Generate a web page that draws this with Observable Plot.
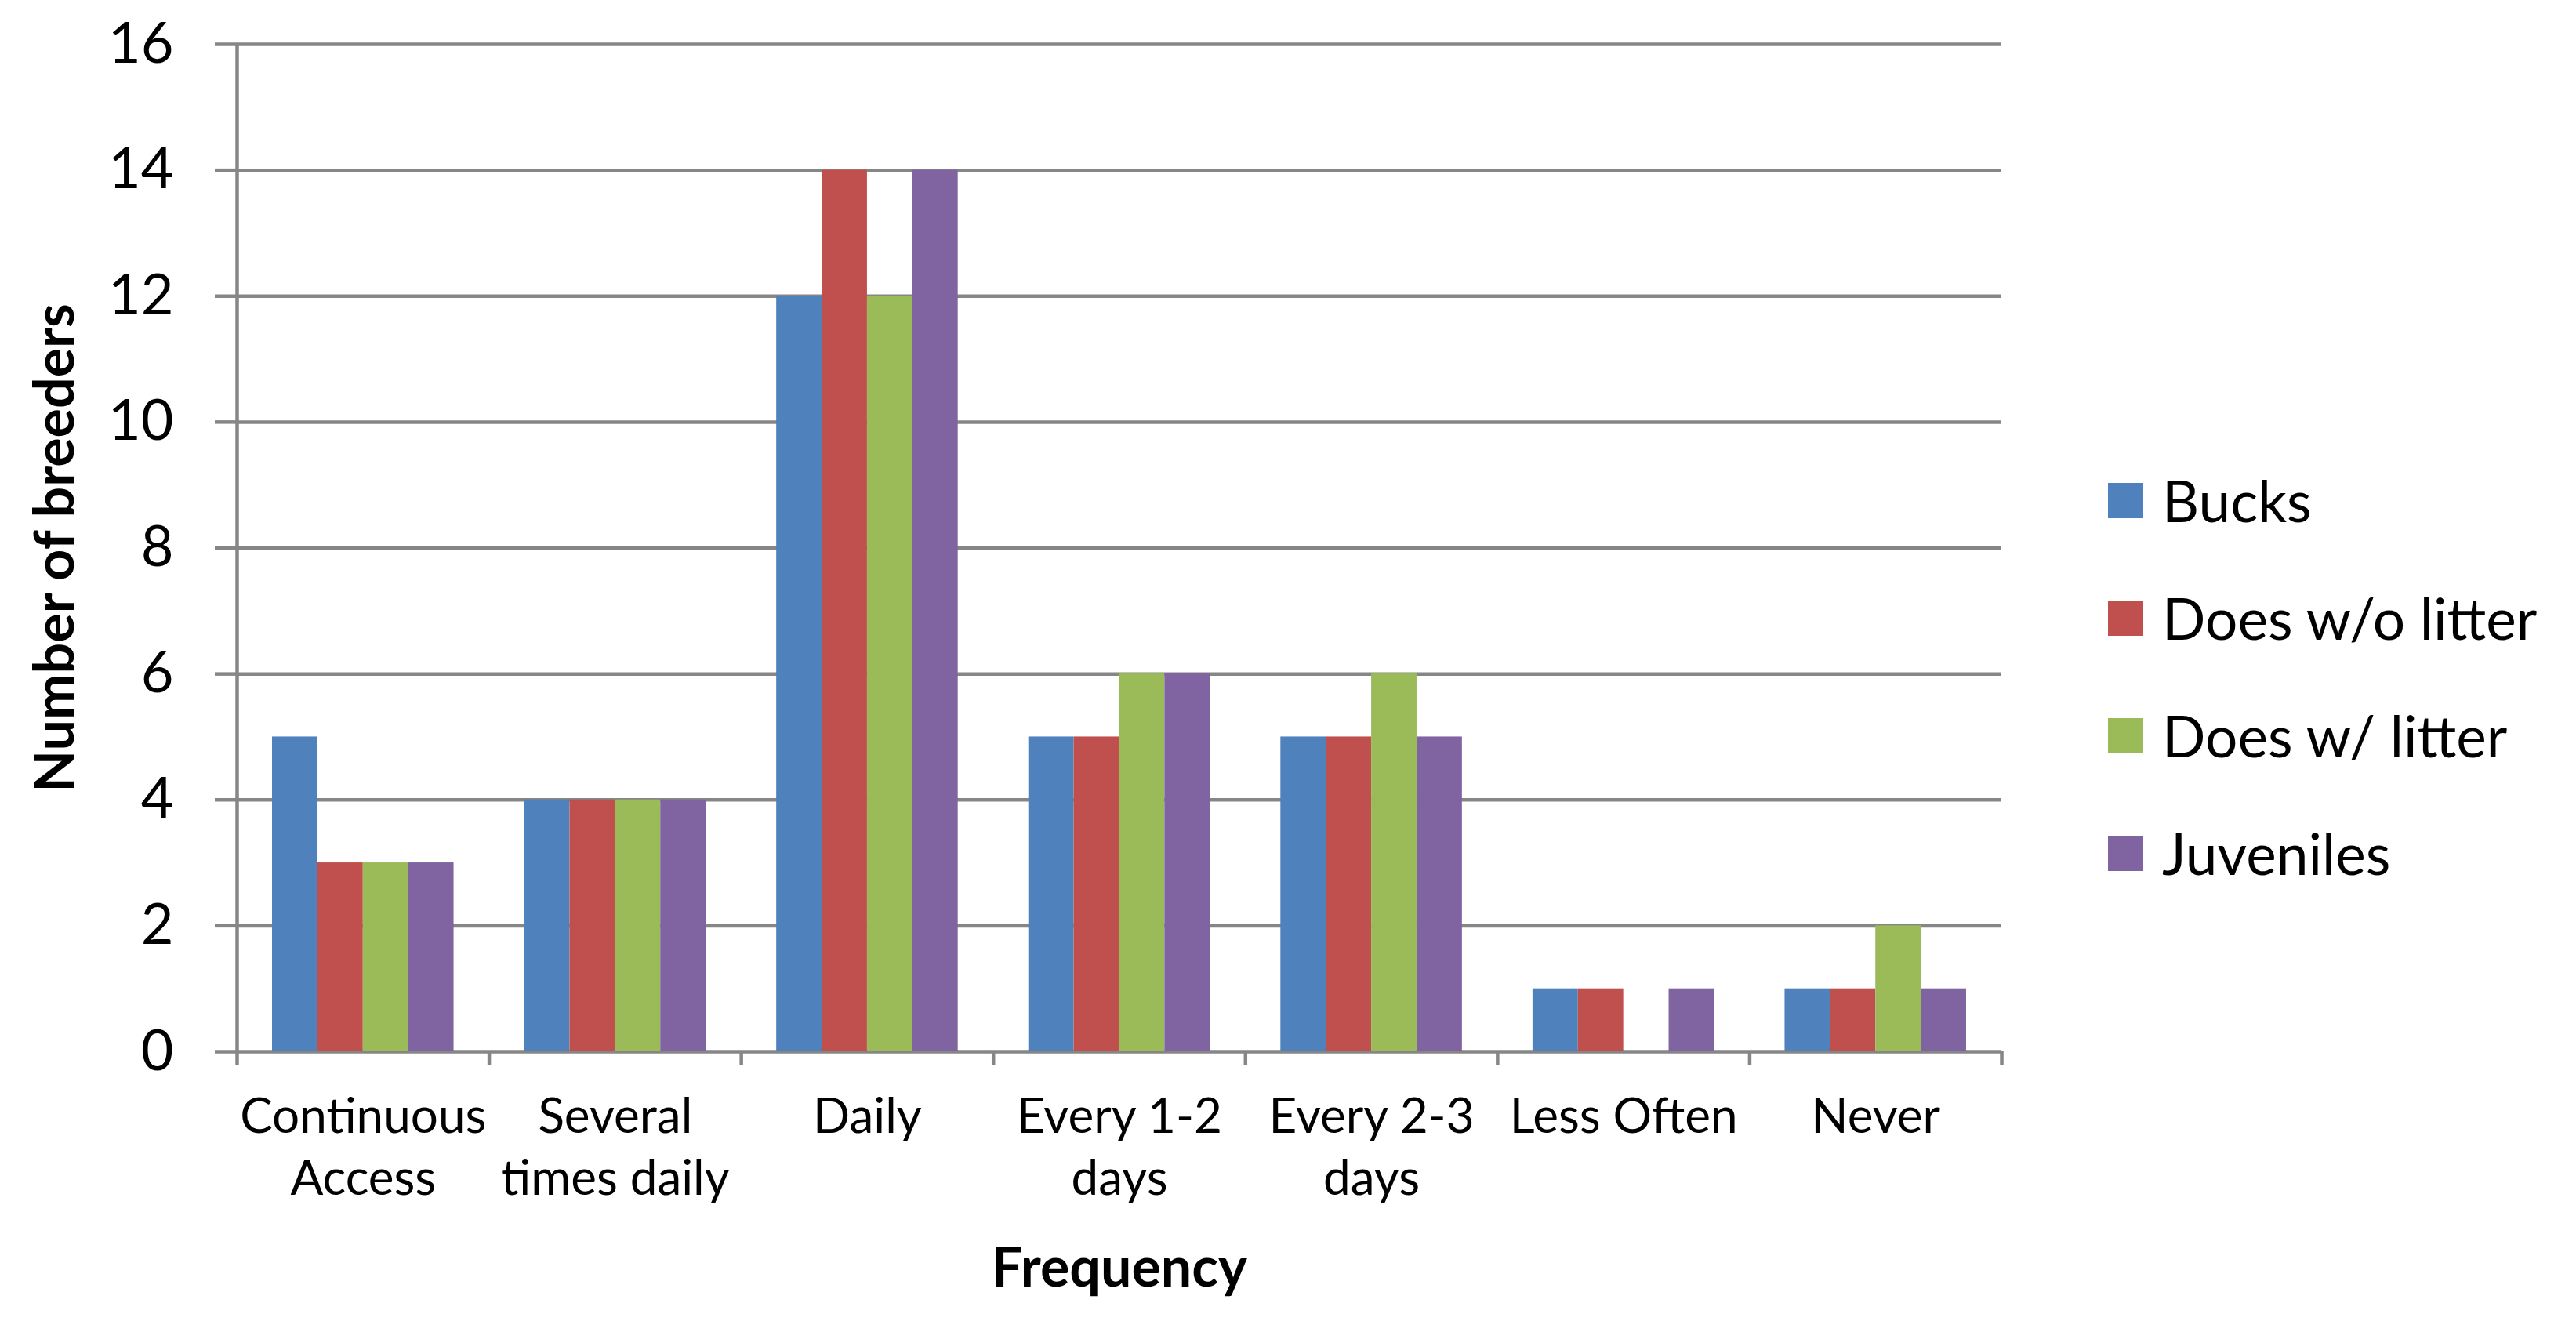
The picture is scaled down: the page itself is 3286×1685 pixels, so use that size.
<!DOCTYPE html>
<html>
<head>
<meta charset="utf-8">
<script src="https://cdn.jsdelivr.net/npm/d3@7"></script>
<script src="https://cdn.jsdelivr.net/npm/@observablehq/plot@0.6"></script>
<style>
  html, body { margin: 0; padding: 0; background: #fff; width: 3286px; height: 1685px; overflow: hidden; font-family: Lato, "Open Sans", sans-serif; }
  #chart { position: absolute; left: 0; top: 0; }
  #legend { position: absolute; left: 2689px; top: 563px; }
  .item { display: flex; align-items: center; height: 150px; font-size: 73px; color: #000; white-space: nowrap; }
  .sw { width: 45px; height: 45px; margin-right: 24px; flex: none; }
</style>
</head>
<body>
<div id="chart"></div>
<div id="legend"></div>
<script>
// ---- data ----
const categories = ["Continuous Access", "Several times daily", "Daily", "Every 1-2 days", "Every 2-3 days", "Less Often", "Never"];
const tickLabels = ["Continuous\nAccess", "Several\ntimes daily", "Daily", "Every 1-2\ndays", "Every 2-3\ndays", "Less Often", "Never"];
const seriesNames = ["Bucks", "Does w/o litter", "Does w/ litter", "Juveniles"];
const bucks = [5, 4, 12, 5, 5, 1, 1];
const doesWithoutLitter = [3, 4, 14, 5, 5, 1, 1];
const doesWithLitter = [3, 4, 12, 6, 6, 0, 2];
const juveniles = [3, 4, 14, 6, 5, 1, 1];
const yTicks = [0, 2, 4, 6, 8, 10, 12, 14, 16];
const colors = ["#4F81BD", "#C0504D", "#9BBB59", "#8064A2"];

// ---- table ----
const seriesValues = [bucks, doesWithoutLitter, doesWithLitter, juveniles];
const table = [];
categories.forEach((c, ci) => {
  seriesNames.forEach((s, si) => {
    table.push({category: c, ci, series: s, si, value: seriesValues[si][ci]});
  });
});

const gray = "#868686";
const groupGap = 0.14;  // fraction of category slot left empty on each side
const barW = 0.18;      // fraction of category slot per bar

const chart = Plot.plot({
  width: 3286,
  height: 1685,
  marginLeft: 302,
  marginRight: 733,
  marginTop: 56,
  marginBottom: 344,
  style: {fontFamily: "Lato, 'Open Sans', sans-serif", color: "#000", background: "#fff", overflow: "visible"},
  x: {type: "linear", domain: [0, categories.length]},
  y: {domain: [0, 16]},
  color: {domain: seriesNames, range: colors},
  marks: [
    Plot.gridY(yTicks, {stroke: gray, strokeOpacity: 1, strokeWidth: 4.5}),
    Plot.rectY(table, {
      x1: d => d.ci + groupGap + d.si * barW,
      x2: d => d.ci + groupGap + (d.si + 1) * barW,
      y: "value",
      fill: "series"
    }),
    Plot.ruleX([0], {stroke: gray, strokeWidth: 4.5}),
    Plot.axisY({ticks: yTicks, tickSize: 28, tickPadding: 53, fontSize: 72, stroke: gray, strokeWidth: 4.5, fill: "#000", label: null}),
    Plot.axisX({ticks: d3.range(0, categories.length + 1), tickSize: 18, tickFormat: () => "", stroke: gray, strokeWidth: 4.5, label: null}),
    Plot.text(tickLabels, {x: (d, i) => i + 0.5, frameAnchor: "bottom", lineAnchor: "top", dy: 48, lineHeight: 1.27, fontSize: 62, fill: "#000"}),
    Plot.text(["Frequency"], {frameAnchor: "bottom", lineAnchor: "bottom", dy: 299, fontSize: 70, fontWeight: "bold", fill: "#000"}),
    Plot.text(["Number of breeders"], {frameAnchor: "left", textAnchor: "middle", lineAnchor: "bottom", rotate: -90, dx: -209, fontSize: 70, fontWeight: "bold", fill: "#000"})
  ]
});
document.getElementById("chart").appendChild(chart);

// ---- legend ----
const legend = document.getElementById("legend");
seriesNames.forEach((s, i) => {
  const item = document.createElement("div");
  item.className = "item";
  const sw = document.createElement("span");
  sw.className = "sw";
  sw.style.background = colors[i];
  const label = document.createElement("span");
  label.textContent = s;
  item.appendChild(sw);
  item.appendChild(label);
  legend.appendChild(item);
});
</script>
</body>
</html>
